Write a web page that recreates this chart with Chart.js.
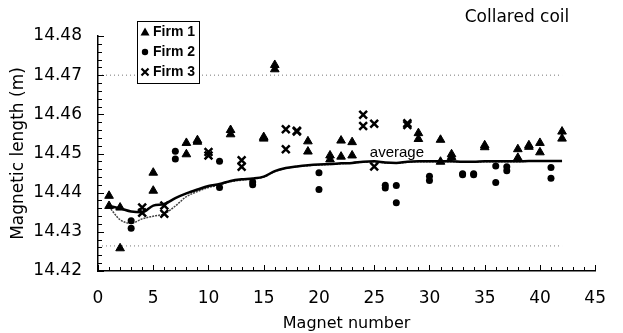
<!DOCTYPE html>
<html>
<head>
<meta charset="utf-8">
<script src="https://cdn.jsdelivr.net/npm/chart.js@4.4.1/dist/chart.umd.min.js"></script>
<style>
  html, body { margin: 0; padding: 0; background: #fff; }
  #wrap { width: 623px; height: 333px; position: relative; }
</style>
</head>
<body>
<div id="wrap"><canvas id="magChart"></canvas></div>
<script>
// magnets measured by each firm (two apertures per magnet)
const firm1Magnets = [1, 2, 5, 8, 9, 12, 15, 16, 19, 21, 22, 23, 29, 31, 32, 35, 38, 39, 40, 42];
const firm1Ap1 = [14.4392, 14.4362, 14.4451, 14.4527, 14.4534, 14.4560, 14.4542, 14.4726, 14.4531, 14.4495,
                  14.4533, 14.4529, 14.4552, 14.4535, 14.4498, 14.4521, 14.4511, 14.4521, 14.4527, 14.4556];
const firm1Ap2 = [14.4366, 14.4258, 14.4405, 14.4498, 14.4530, 14.4549, 14.4538, 14.4715, 14.4505, 14.4485,
                  14.4492, 14.4495, 14.4537, 14.4479, 14.4491, 14.4516, 14.4489, 14.4517, 14.4503, 14.4538];

const firm2Magnets = [3, 7, 11, 14, 20, 26, 27, 30, 33, 34, 36, 37, 41];
const firm2Ap1 = [14.4328, 14.4506, 14.4480, 14.4427, 14.4451, 14.4419, 14.4418, 14.4442, 14.4448, 14.4448, 14.4468, 14.4466, 14.4464];
const firm2Ap2 = [14.4309, 14.4486, 14.4413, 14.4420, 14.4408, 14.4412, 14.4374, 14.4431, 14.4446, 14.4446, 14.4426, 14.4456, 14.4437];

const firm3Magnets = [4, 6, 10, 13, 17, 18, 24, 25, 28];
const firm3Ap1 = [14.4362, 14.4367, 14.4504, 14.4483, 14.4562, 14.4558, 14.4599, 14.4576, 14.4577];
const firm3Ap2 = [14.4349, 14.4346, 14.4495, 14.4466, 14.4511, 14.4556, 14.4570, 14.4467, 14.4573];

// running averages
const magnetNumbers = [1, 2, 3, 4, 5, 6, 7, 8, 9, 10, 11, 12, 13, 14, 15, 16, 17, 18, 19, 20, 21,
                       22, 23, 24, 25, 26, 27, 28, 29, 30, 31, 32, 33, 34, 35, 36, 37, 38, 39, 40, 41, 42];
const averageA = [14.4366, 14.4360, 14.4352, 14.4350, 14.4367, 14.4371, 14.4386, 14.4398, 14.4408, 14.4417,
                  14.4422, 14.4430, 14.4434, 14.4436, 14.4441, 14.4455, 14.4463, 14.4467, 14.4470, 14.4472,
                  14.4473, 14.4475, 14.4476, 14.4479, 14.4480, 14.4477, 14.4476, 14.4479, 14.4480, 14.4480,
                  14.4480, 14.4480, 14.4479, 14.4479, 14.4480, 14.4480, 14.4480, 14.4480, 14.4481, 14.4481,
                  14.4481, 14.4481];
const averageB = [14.4364, 14.4331, 14.4322, 14.4333, 14.4340, 14.4346, 14.4366, 14.4390, 14.4403, 14.4413,
                  14.4420, 14.4428, 14.4432, 14.4435, 14.4440, 14.4454, 14.4462, 14.4467, 14.4469, 14.4471,
                  14.4472, 14.4474, 14.4476, 14.4478, 14.4479, 14.4476, 14.4475, 14.4478, 14.4479, 14.4479,
                  14.4479, 14.4479, 14.4478, 14.4478, 14.4479, 14.4479, 14.4479, 14.4479, 14.4480, 14.4480,
                  14.4480, 14.4480];

// tolerance band
const bandX = [0, 42];
const bandUpper = [14.47, 14.47];
const bandLower = [14.4264, 14.4264];

const yTicks = [14.42, 14.43, 14.44, 14.45, 14.46, 14.47, 14.48];

function pairs(mags, a, b) {
  return mags.flatMap((m, i) => [{ x: m, y: a[i] }, { x: m, y: b[i] }]);
}
function series(xs, ys) {
  return xs.map((x, i) => ({ x: x, y: ys[i] }));
}

// small marker shapes for the legend
function marker(ctx, kind, x, y) {
  ctx.beginPath();
  if (kind === 'triangle') {
    ctx.moveTo(x, y - 4.5);
    ctx.lineTo(x + 4.5, y + 3.5);
    ctx.lineTo(x - 4.5, y + 3.5);
    ctx.closePath();
    ctx.fill();
  } else if (kind === 'circle') {
    ctx.arc(x, y, 3.2, 0, Math.PI * 2);
    ctx.fill();
  } else {
    ctx.lineWidth = 2.2;
    ctx.moveTo(x - 3.5, y - 3.5); ctx.lineTo(x + 3.5, y + 3.5);
    ctx.moveTo(x + 3.5, y - 3.5); ctx.lineTo(x - 3.5, y + 3.5);
    ctx.stroke();
  }
}

const decor = {
  id: 'decor',
  afterDraw(chart) {
    const { ctx, scales, chartArea } = chart;
    const xs = scales.x, ys = scales.y;
    ctx.save();
    ctx.strokeStyle = '#000';
    ctx.fillStyle = '#000';
    ctx.lineWidth = 1;

    // inward ticks
    ctx.beginPath();
    for (let i = 0; i <= 30; i++) {
      const v = 14.42 + i * 0.002;
      const py = Math.round(ys.getPixelForValue(v)) + 0.5;
      const len = i % 5 === 0 ? 6 : 4;
      ctx.moveTo(chartArea.left, py);
      ctx.lineTo(chartArea.left + len, py);
    }
    for (let i = 0; i <= 45; i++) {
      const px = Math.round(xs.getPixelForValue(i)) + 0.5;
      const len = i % 5 === 0 ? 6 : 4;
      ctx.moveTo(px, chartArea.bottom);
      ctx.lineTo(px, chartArea.bottom - len);
    }
    ctx.stroke();

    // title
    ctx.font = '17px "DejaVu Sans"';
    ctx.textAlign = 'center';
    ctx.textBaseline = 'middle';
    ctx.fillText('Collared coil', 517, 18);

    // average label
    ctx.font = '15px "Liberation Sans"';
    ctx.textAlign = 'left';
    ctx.textBaseline = 'alphabetic';
    ctx.fillText('average', xs.getPixelForValue(24.6), ys.getPixelForValue(14.4490));

    // legend
    const bx = 137.5, by = 21.5, bw = 62, bh = 62;
    ctx.fillStyle = '#fff';
    ctx.fillRect(bx, by, bw, bh);
    ctx.lineWidth = 1;
    ctx.strokeStyle = '#000';
    ctx.strokeRect(bx, by, bw, bh);
    ctx.fillStyle = '#000';
    ctx.font = 'bold 14px "Liberation Sans"';
    ctx.textBaseline = 'middle';
    const items = [['triangle', 'Firm 1'], ['circle', 'Firm 2'], ['cross', 'Firm 3']];
    items.forEach((it, i) => {
      const cy = 32 + i * 20;
      marker(ctx, it[0], 145, cy);
      ctx.fillText(it[1], 153, cy);
    });
    ctx.restore();
  }
};

new Chart(document.getElementById('magChart'), {
  type: 'scatter',
  data: {
    datasets: [
      {
        label: 'Firm 1',
        data: pairs(firm1Magnets, firm1Ap1, firm1Ap2),
        pointStyle: 'triangle',
        pointRadius: 5,
        backgroundColor: '#000',
        borderColor: '#000',
        borderWidth: 1
      },
      {
        label: 'Firm 2',
        data: pairs(firm2Magnets, firm2Ap1, firm2Ap2),
        pointStyle: 'circle',
        pointRadius: 3.5,
        backgroundColor: '#000',
        borderColor: '#000',
        borderWidth: 0
      },
      {
        label: 'Firm 3',
        data: pairs(firm3Magnets, firm3Ap1, firm3Ap2),
        pointStyle: 'crossRot',
        pointRadius: 5.5,
        backgroundColor: '#000',
        borderColor: '#000',
        borderWidth: 2.5
      },
      {
        label: 'average A',
        type: 'line',
        data: series(magnetNumbers, averageA),
        borderColor: '#000',
        borderWidth: 2.5,
        pointRadius: 0,
        cubicInterpolationMode: 'monotone'
      },
      {
        label: 'average B',
        type: 'line',
        data: series(magnetNumbers, averageB),
        borderColor: '#444',
        borderWidth: 1.5,
        borderDash: [2, 1],
        pointRadius: 0,
        cubicInterpolationMode: 'monotone'
      },
      {
        label: 'upper',
        type: 'line',
        data: series(bandX, bandUpper),
        borderColor: '#777',
        borderWidth: 1,
        borderDash: [1, 3],
        pointRadius: 0
      },
      {
        label: 'lower',
        type: 'line',
        data: series(bandX, bandLower),
        borderColor: '#777',
        borderWidth: 1,
        borderDash: [1, 3],
        pointRadius: 0
      }
    ]
  },
  options: {
    responsive: true,
    maintainAspectRatio: false,
    animation: false,
    layout: { padding: { top: 36, right: 13, left: 0, bottom: 0 } },
    plugins: {
      legend: { display: false },
      title: { display: false },
      tooltip: { enabled: false }
    },
    scales: {
      x: {
        type: 'linear',
        min: 0,
        max: 45,
        grid: { display: false, drawTicks: false },
        border: { display: true, color: '#000', width: 1.5 },
        ticks: {
          stepSize: 5,
          padding: 17,
          color: '#000',
          font: { family: 'DejaVu Sans', size: 17 }
        },
        title: {
          display: true,
          text: 'Magnet number',
          color: '#000',
          font: { family: 'DejaVu Sans', size: 16 },
          padding: { top: 0, bottom: 0 }
        },
        afterFit(scale) { scale.height = 62; }
      },
      y: {
        type: 'linear',
        min: 14.42,
        max: 14.48,
        grid: { display: false, drawTicks: false },
        border: { display: true, color: '#000', width: 1.5 },
        afterBuildTicks(scale) { scale.ticks = yTicks.map(v => ({ value: v })); },
        ticks: {
          padding: 16,
          color: '#000',
          font: { family: 'DejaVu Sans', size: 17 },
          callback: v => Number(v).toFixed(2)
        },
        title: {
          display: true,
          text: 'Magnetic length (m)',
          color: '#000',
          font: { family: 'DejaVu Sans', size: 17 },
          padding: { top: 8, bottom: 0 }
        },
        afterFit(scale) { scale.width = 98; }
      }
    }
  },
  plugins: [decor]
});
</script>
</body>
</html>
